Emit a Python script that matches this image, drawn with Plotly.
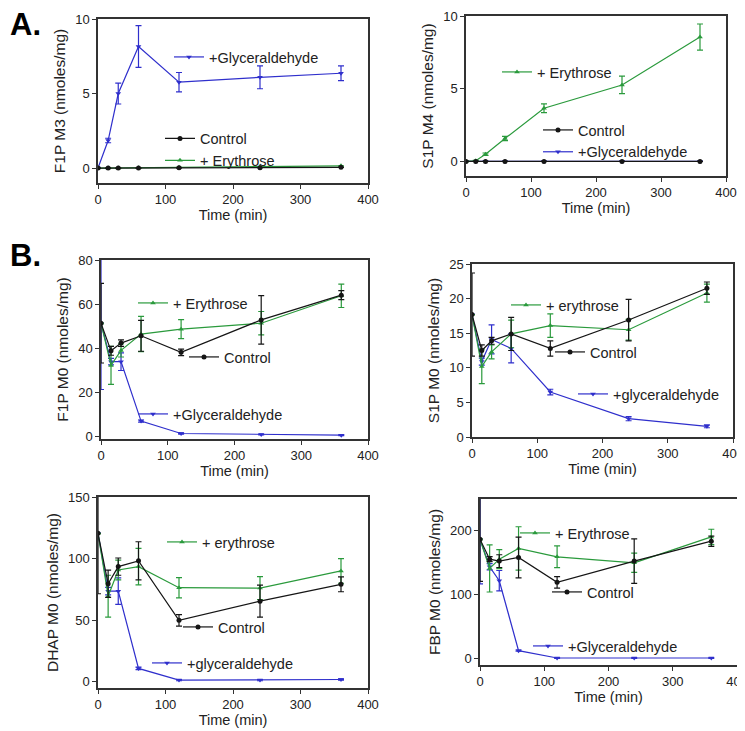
import plotly.graph_objects as go

W, H = 745, 731
OFF = 8  # page body margin of the browser

time_min = [0, 15, 30, 60, 120, 240, 360]

# Panel A1: F1P M3
a1_ctrl = [0, 0, 0, 0, 0.02, 0.03, 0.05]
a1_ctrl_err = [0, 0, 0, 0, 0, 0, 0]
a1_ery = [0, 0, 0, 0.02, 0.05, 0.1, 0.15]
a1_ery_err = [0, 0, 0, 0, 0, 0, 0]
a1_gly = [0, 1.85, 5.0, 8.15, 5.76, 6.09, 6.36]
a1_gly_err = [0, 0.15, 0.7, 1.4, 0.65, 0.77, 0.5]

# Panel A2: S1P M4
a2_ctrl = [0, 0, 0, 0, 0, 0, 0]
a2_ctrl_err = [0, 0, 0, 0, 0, 0, 0]
a2_ery = [0, 0.05, 0.5, 1.58, 3.66, 5.26, 8.55]
a2_ery_err = [0, 0.03, 0.08, 0.15, 0.3, 0.6, 0.9]
a2_gly = [0, 0, 0, 0, 0, 0, 0]
a2_gly_err = [0, 0, 0, 0, 0, 0, 0]

# Panel B1: F1P M0
b1_ctrl = [51.4, 38.9, 42.4, 45.7, 38.2, 52.9, 64.1]
b1_ctrl_err = [18, 2, 1.5, 7, 1.5, 11, 2]
b1_ery = [51.4, 32.3, 39.1, 46.5, 48.7, 51.4, 63.8]
b1_ery_err = [0, 8.6, 3, 8, 4.3, 5.3, 5.3]
b1_gly = [51.4, 34, 34, 7.1, 1.5, 1.0, 0.75]
b1_gly_err = [30, 1.5, 4, 0.5, 0.3, 0.2, 0.2]

# Panel B2: S1P M0
b2_ctrl = [17.7, 12.5, 13.9, 14.9, 12.8, 16.9, 21.5]
b2_ctrl_err = [6, 0.8, 0.5, 2.4, 1.1, 3, 0.9]
b2_ery = [17.7, 10.2, 12.3, 14.9, 16.1, 15.5, 20.8]
b2_ery_err = [0, 2.5, 1, 2, 1.7, 1.5, 1.3]
b2_gly = [17.7, 10.9, 14.1, 12.8, 6.5, 2.65, 1.54]
b2_gly_err = [0, 0.5, 2.1, 2.1, 0.4, 0.3, 0.2]

# Panel B3: DHAP M0
b3_ctrl = [120.5, 79.6, 93.5, 98.2, 49.9, 65.5, 79.1]
b3_ctrl_err = [49, 11, 7, 15.5, 4.7, 13, 6]
b3_ery = [120.5, 69.5, 90.8, 93.5, 76.4, 76.1, 90]
b3_ery_err = [0, 17, 8, 14.8, 8.2, 9.3, 10]
b3_gly = [120.5, 73.6, 73.6, 10.9, 1.4, 1.4, 1.9]
b3_gly_err = [0, 3, 10.7, 1, 0.5, 0.5, 0.5]

# Panel B4: FBP M0
b4_ctrl = [187, 155.8, 152.7, 158.4, 119.5, 152.7, 183.9]
b4_ctrl_err = [66, 4, 10, 32, 9, 35, 8]
b4_ery = [187, 141.3, 155.8, 172.5, 159.5, 150.1, 190.6]
b4_ery_err = [0, 37, 15, 34, 17, 15, 12]
b4_gly = [187, 143.9, 122, 12.5, 1, 1, 1]
b4_gly_err = [70, 5, 16, 1, 0.5, 0.5, 0.5]

x_ticks = [0, 100, 200, 300, 400]

BLUE = "#2f2fcc"
GREEN = "#2a9a3c"
BLACK = "#151515"
FONT = "Liberation Sans"


def px_x(p):
    return min(1.0, max(0.0, (p - OFF) / W))


def px_y(p):
    return min(1.0, max(0.0, 1 - (p - OFF) / H))


panels = [
    dict(box=(98, 368, 19, 183), yr=[-1, 10], yt=[0, 5, 10], title="F1P M3 (nmoles/mg)",
         series=[(a1_gly, a1_gly_err, "+Glyceraldehyde", BLUE, "triangle-down", "L1", 1),
                 (a1_ery, a1_ery_err, "+ Erythrose", GREEN, "triangle-up", "L2", 2),
                 (a1_ctrl, a1_ctrl_err, "Control", BLACK, "circle", "L2", 1)],
         legends={"L1": (209, 57), "L2": (200, 149.5)}),
    dict(box=(466, 726, 16, 176), yr=[-1, 10], yt=[0, 5, 10], title="S1P M4 (nmoles/mg)",
         series=[(a2_gly, a2_gly_err, "+Glyceraldehyde", BLUE, "triangle-down", "L2", 2),
                 (a2_ery, a2_ery_err, "+ Erythrose", GREEN, "triangle-up", "L1", 1),
                 (a2_ctrl, a2_ctrl_err, "Control", BLACK, "circle", "L2", 1)],
         legends={"L1": (537, 72), "L2": (578, 141)}),
    dict(box=(101, 368, 260, 439), yr=[-1, 80], yt=[0, 20, 40, 60, 80], title="F1P M0 (nmoles/mg)",
         series=[(b1_gly, b1_gly_err, "+Glyceraldehyde", BLUE, "triangle-down", "L3", 1),
                 (b1_ery, b1_ery_err, "+ Erythrose", GREEN, "triangle-up", "L1", 1),
                 (b1_ctrl, b1_ctrl_err, "Control", BLACK, "circle", "L2", 1)],
         legends={"L1": (173, 303), "L2": (224, 357), "L3": (173, 414)}),
    dict(box=(472, 733, 264, 437), yr=[0, 25], yt=[0, 5, 10, 15, 20, 25], title="S1P M0 (nmoles/mg)",
         series=[(b2_gly, b2_gly_err, "+glyceraldehyde", BLUE, "triangle-down", "L3", 1),
                 (b2_ery, b2_ery_err, "+ erythrose", GREEN, "triangle-up", "L1", 1),
                 (b2_ctrl, b2_ctrl_err, "Control", BLACK, "circle", "L2", 1)],
         legends={"L1": (546, 305), "L2": (590, 352), "L3": (613, 394)}),
    dict(box=(98, 368, 497, 688), yr=[-5, 150], yt=[0, 50, 100, 150], title="DHAP M0 (nmoles/mg)",
         series=[(b3_gly, b3_gly_err, "+glyceraldehyde", BLUE, "triangle-down", "L3", 1),
                 (b3_ery, b3_ery_err, "+ erythrose", GREEN, "triangle-up", "L1", 1),
                 (b3_ctrl, b3_ctrl_err, "Control", BLACK, "circle", "L2", 1)],
         legends={"L1": (202, 542), "L2": (218, 627), "L3": (187, 663)}),
    dict(box=(480, 737, 499, 665), yr=[-10, 250], yt=[0, 100, 200], title="FBP M0 (nmoles/mg)",
         series=[(b4_gly, b4_gly_err, "+Glyceraldehyde", BLUE, "triangle-down", "L3", 1),
                 (b4_ery, b4_ery_err, "+ Erythrose", GREEN, "triangle-up", "L1", 1),
                 (b4_ctrl, b4_ctrl_err, "Control", BLACK, "circle", "L2", 1)],
         legends={"L1": (555, 533), "L2": (587, 592), "L3": (568, 646)}),
]

fig = go.Figure()
layout = dict(
    width=W, height=H, margin=dict(l=0, r=0, t=0, b=0, autoexpand=False),
    paper_bgcolor="white", plot_bgcolor="white",
    font=dict(family=FONT, color="#222", size=13),
    showlegend=True,
)

legend_count = 0
for i, p in enumerate(panels):
    n = i + 1
    xa = "x" if n == 1 else f"x{n}"
    ya = "y" if n == 1 else f"y{n}"
    x0, x1, y0, y1 = p["box"]
    lid = {}
    for key, (tx, ty) in p["legends"].items():
        legend_count += 1
        name = "legend" if legend_count == 1 else f"legend{legend_count}"
        lid[key] = name
        layout[name] = dict(
            x=px_x(tx - 40), y=px_y(ty), xanchor="left", yanchor="middle",
            bgcolor="rgba(0,0,0,0)", borderwidth=0, itemwidth=30,
            font=dict(family=FONT, size=14.5, color="#222"),
            tracegroupgap=0, itemclick=False, itemdoubleclick=False,
        )
    for (yv, ye, label, col, sym, lkey, rank) in p["series"]:
        fig.add_trace(go.Scatter(
            x=time_min, y=yv, name=label, mode="lines+markers",
            xaxis=xa, yaxis=ya, legend=lid[lkey], legendrank=rank,
            line=dict(color=col, width=1.2),
            marker=dict(color=col, symbol=sym, size=5),
            error_y=dict(type="data", array=ye, visible=True, color=col, thickness=1.2, width=3),
        ))
    axis_common = dict(
        showline=True, mirror=True, linecolor="#333", linewidth=1.5,
        ticks="outside", ticklen=4, tickcolor="#333", tickwidth=1.2,
        showgrid=False, zeroline=False, tickfont=dict(family=FONT, size=13, color="#222"),
        automargin=False, ticklabeloverflow="allow",
    )
    layout["xaxis" if n == 1 else f"xaxis{n}"] = dict(
        domain=[px_x(x0), px_x(x1)], range=[0, 400], tickvals=x_ticks,
        anchor=ya, title=dict(text="Time (min)", font=dict(size=14.5), standoff=2),
        **axis_common)
    layout["yaxis" if n == 1 else f"yaxis{n}"] = dict(
        domain=[px_y(y1), px_y(y0)], range=p["yr"], tickvals=p["yt"],
        anchor=xa, title=dict(text=p["title"], font=dict(size=15.5), standoff=6),
        **axis_common)

layout["annotations"] = [
    dict(text="<b>A.</b>", x=px_x(2), y=px_y(24), xref="paper", yref="paper",
         xanchor="left", yanchor="middle", showarrow=False,
         font=dict(family=FONT, size=31, color="black")),
    dict(text="<b>B.</b>", x=px_x(2), y=px_y(255), xref="paper", yref="paper",
         xanchor="left", yanchor="middle", showarrow=False,
         font=dict(family=FONT, size=31, color="black")),
]

fig.update_layout(**layout)
fig.write_html("out.html")
